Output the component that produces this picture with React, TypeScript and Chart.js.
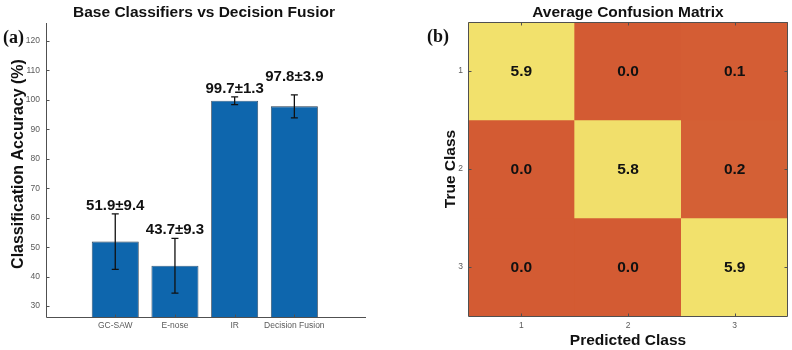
import { useEffect, useRef } from "react";
import { Chart, registerables } from "chart.js";

Chart.register(...registerables);

// ---- Panel (a): classifier accuracy ----
const classifiers = ["GC-SAW", "E-nose", "IR", "Decision Fusion"];
const accuracyMean = [51.9, 43.7, 99.7, 97.8];
const accuracyStd = [9.4, 9.3, 1.3, 3.9];
const accuracyTicks = [30, 40, 50, 60, 70, 80, 90, 100, 110, 120];

// ---- Panel (b): averaged confusion matrix (rows = true class) ----
const classLabels = ["1", "2", "3"];
const trueClass1 = [5.9, 0.0, 0.1];
const trueClass2 = [0.0, 5.8, 0.2];
const trueClass3 = [0.0, 0.0, 5.9];
const confusionRows = [trueClass1, trueClass2, trueClass3];

const SANS = '"Liberation Sans", Arial, Helvetica, sans-serif';
const SERIF = '"Liberation Serif", "Times New Roman", serif';
const AXIS_COLOR = "#505050";
const TICK_COLOR = "#5a5a5a";

const LOW_RGB = [211, 91, 51];
const HIGH_RGB = [242, 225, 108];

function cellColor(v: number, maxV: number): string {
  const t = maxV > 0 ? v / maxV : 0;
  const c = LOW_RGB.map((lo, i) => Math.round(lo + (HIGH_RGB[i] - lo) * t));
  return `rgb(${c[0]}, ${c[1]}, ${c[2]})`;
}

const crisp = (v: number) => Math.round(v) + 0.5;

const accuracyDecor = {
  id: "accuracyDecor",
  afterDatasetsDraw(chart: any) {
    const { ctx, scales } = chart;
    const xs = scales.x;
    const ys = scales.y;
    ctx.save();
    // error bars
    ctx.strokeStyle = "#111";
    ctx.lineWidth = 1.3;
    accuracyMean.forEach((m, i) => {
      const x = xs.getPixelForValue(i + 1);
      const yTop = ys.getPixelForValue(m + accuracyStd[i]);
      const yBot = ys.getPixelForValue(m - accuracyStd[i]);
      ctx.beginPath();
      ctx.moveTo(x, yTop);
      ctx.lineTo(x, yBot);
      ctx.moveTo(x - 3.5, yTop);
      ctx.lineTo(x + 3.5, yTop);
      ctx.moveTo(x - 3.5, yBot);
      ctx.lineTo(x + 3.5, yBot);
      ctx.stroke();
    });
    // mean ± std labels
    const raise = [0, 0, 0, 10];
    ctx.fillStyle = "#111";
    ctx.font = `bold 15px ${SANS}`;
    ctx.textAlign = "center";
    ctx.textBaseline = "alphabetic";
    accuracyMean.forEach((m, i) => {
      const x = xs.getPixelForValue(i + 1);
      const y = ys.getPixelForValue(m + accuracyStd[i]) - 4 - raise[i];
      ctx.fillText(`${m.toFixed(1)}±${accuracyStd[i].toFixed(1)}`, x, y);
    });
    ctx.restore();
  },
  afterDraw(chart: any) {
    const { ctx, chartArea: a, scales } = chart;
    ctx.save();
    ctx.strokeStyle = AXIS_COLOR;
    ctx.lineWidth = 1;
    const lx = crisp(a.left);
    const by = crisp(a.bottom);
    ctx.beginPath();
    ctx.moveTo(lx, a.top);
    ctx.lineTo(lx, by);
    ctx.lineTo(a.right, by);
    // inward ticks
    accuracyTicks.forEach((t) => {
      const y = crisp(scales.y.getPixelForValue(t));
      ctx.moveTo(lx, y);
      ctx.lineTo(lx + 3, y);
    });
    classifiers.forEach((_, i) => {
      const x = crisp(scales.x.getPixelForValue(i + 1));
      ctx.moveTo(x, by);
      ctx.lineTo(x, by - 3);
    });
    ctx.stroke();

    // title
    ctx.fillStyle = "#111";
    ctx.textAlign = "center";
    ctx.textBaseline = "alphabetic";
    ctx.font = `bold 15.5px ${SANS}`;
    ctx.fillText("Base Classifiers vs Decision Fusior", (a.left + a.right) / 2 - 2, 16.5);

    // y axis title
    ctx.save();
    ctx.translate(23, (a.top + a.bottom) / 2 - 6);
    ctx.rotate(-Math.PI / 2);
    ctx.font = `bold 16px ${SANS}`;
    ctx.fillText("Classification Accuracy (%)", 0, 0);
    ctx.restore();

    // panel letter
    ctx.textAlign = "left";
    ctx.font = `bold 18px ${SERIF}`;
    ctx.fillText("(a)", 3, 43);
    ctx.restore();
  },
};

const matrixDecor = {
  id: "matrixDecor",
  afterDatasetsDraw(chart: any) {
    const { ctx, scales } = chart;
    ctx.save();
    ctx.fillStyle = "#111";
    ctx.font = `bold 15.5px ${SANS}`;
    ctx.textAlign = "center";
    ctx.textBaseline = "middle";
    confusionRows.forEach((row, r) => {
      row.forEach((v, c) => {
        const x = scales.x.getPixelForValue(c + 1);
        const y = scales.y.getPixelForValue(r + 1);
        ctx.fillText(v.toFixed(1), x, y + 1);
      });
    });
    ctx.restore();
  },
  afterDraw(chart: any) {
    const { ctx, chartArea: a, scales } = chart;
    ctx.save();
    ctx.strokeStyle = AXIS_COLOR;
    ctx.lineWidth = 1;
    const l = crisp(a.left);
    const r = crisp(a.right - 1);
    const t = crisp(a.top);
    const b = crisp(a.bottom);
    ctx.beginPath();
    ctx.rect(l, t, r - l, b - t);
    classLabels.forEach((_, i) => {
      const x = crisp(scales.x.getPixelForValue(i + 1));
      ctx.moveTo(x, b);
      ctx.lineTo(x, b - 3);
      ctx.moveTo(x, t);
      ctx.lineTo(x, t + 3);
      const y = crisp(scales.y.getPixelForValue(i + 1));
      ctx.moveTo(l, y);
      ctx.lineTo(l + 3, y);
      ctx.moveTo(r, y);
      ctx.lineTo(r - 3, y);
    });
    ctx.stroke();

    ctx.fillStyle = "#111";
    ctx.textAlign = "center";
    ctx.textBaseline = "alphabetic";
    ctx.font = `bold 15.5px ${SANS}`;
    ctx.fillText("Average Confusion Matrix", (a.left + a.right) / 2, 16.5);
    ctx.fillText("Predicted Class", (a.left + a.right) / 2, 345);

    ctx.save();
    ctx.translate(55, (a.top + a.bottom) / 2);
    ctx.rotate(-Math.PI / 2);
    ctx.fillText("True Class", 0, 0);
    ctx.restore();

    ctx.textAlign = "left";
    ctx.font = `bold 18px ${SERIF}`;
    ctx.fillText("(b)", 27, 42);
    ctx.restore();
  },
};

const tickFont = { family: SANS, size: 8.5 };

export default function App() {
  const leftRef = useRef<HTMLCanvasElement | null>(null);
  const rightRef = useRef<HTMLCanvasElement | null>(null);

  useEffect(() => {
    if (!leftRef.current || !rightRef.current) return;

    const accuracyChart = new Chart(leftRef.current, {
      type: "bar",
      data: {
        datasets: [
          {
            data: classifiers.map((_, i) => ({ x: i + 1, y: accuracyMean[i] })),
            backgroundColor: "#0e66ad",
            borderColor: "#23384d",
            borderWidth: 0.8,
            barPercentage: 0.787,
            categoryPercentage: 1,
          } as any,
        ],
      },
      options: {
        responsive: false,
        animation: false,
        events: [],
        layout: { padding: { top: 23, right: 34, left: 0, bottom: 0 } },
        plugins: {
          legend: { display: false },
          tooltip: { enabled: false },
          title: { display: false },
        },
        scales: {
          x: {
            type: "linear",
            min: -0.16,
            max: 5.2,
            offset: false,
            grid: { display: false, drawTicks: false, offset: false },
            border: { display: false },
            afterBuildTicks: (s: any) => {
              s.ticks = classifiers.map((_, i) => ({ value: i + 1 }));
            },
            afterFit: (s: any) => {
              s.height = 33;
            },
            ticks: {
              autoSkip: false,
              maxRotation: 0,
              padding: 4,
              color: TICK_COLOR,
              font: tickFont,
              callback: (v: any) => classifiers[Number(v) - 1] ?? "",
            },
          },
          y: {
            type: "linear",
            min: 26.3,
            max: 126.1,
            grid: { display: false, drawTicks: false },
            border: { display: false },
            afterBuildTicks: (s: any) => {
              s.ticks = accuracyTicks.map((v) => ({ value: v }));
            },
            afterFit: (s: any) => {
              s.width = 46;
            },
            ticks: {
              padding: 6,
              color: TICK_COLOR,
              font: tickFont,
              callback: (v: any) => String(v),
            },
          },
        },
      } as any,
      plugins: [accuracyDecor],
    });

    const maxCell = Math.max(...confusionRows.flat());
    const matrixChart = new Chart(rightRef.current, {
      type: "bar",
      data: {
        datasets: confusionRows.map((row, r) => ({
          data: row.map((_, c) => ({ x: c + 1, y: [r + 0.5, r + 1.5] })),
          backgroundColor: row.map((v) => cellColor(v, maxCell)),
          borderWidth: 0,
          grouped: false,
          barPercentage: 1,
          categoryPercentage: 1,
        })) as any,
      },
      options: {
        responsive: false,
        animation: false,
        events: [],
        layout: { padding: { top: 22, right: 4, left: 0, bottom: 0 } },
        plugins: {
          legend: { display: false },
          tooltip: { enabled: false },
          title: { display: false },
        },
        scales: {
          x: {
            type: "linear",
            min: 0.5,
            max: 3.5,
            offset: false,
            grid: { display: false, drawTicks: false, offset: false },
            border: { display: false },
            afterBuildTicks: (s: any) => {
              s.ticks = classLabels.map((_, i) => ({ value: i + 1 }));
            },
            afterFit: (s: any) => {
              s.height = 34;
            },
            ticks: {
              autoSkip: false,
              maxRotation: 0,
              padding: 5,
              color: TICK_COLOR,
              font: tickFont,
              callback: (v: any) => classLabels[Number(v) - 1] ?? "",
            },
          },
          y: {
            type: "linear",
            min: 0.5,
            max: 3.5,
            reverse: true,
            grid: { display: false, drawTicks: false },
            border: { display: false },
            afterBuildTicks: (s: any) => {
              s.ticks = classLabels.map((_, i) => ({ value: i + 1 }));
            },
            afterFit: (s: any) => {
              s.width = 68;
            },
            ticks: {
              padding: 5,
              color: TICK_COLOR,
              font: tickFont,
              callback: (v: any) => classLabels[Number(v) - 1] ?? "",
            },
          },
        },
      } as any,
      plugins: [matrixDecor],
    });

    return () => {
      accuracyChart.destroy();
      matrixChart.destroy();
    };
  }, []);

  return (
    <div
      style={{
        position: "absolute",
        left: 0,
        top: 0,
        width: 792,
        height: 350,
        background: "#ffffff",
        overflow: "hidden",
      }}
    >
      <canvas
        ref={leftRef}
        width={400}
        height={350}
        style={{ position: "absolute", left: 0, top: 0, width: 400, height: 350 }}
      />
      <canvas
        ref={rightRef}
        width={392}
        height={350}
        style={{ position: "absolute", left: 400, top: 0, width: 392, height: 350 }}
      />
    </div>
  );
}
